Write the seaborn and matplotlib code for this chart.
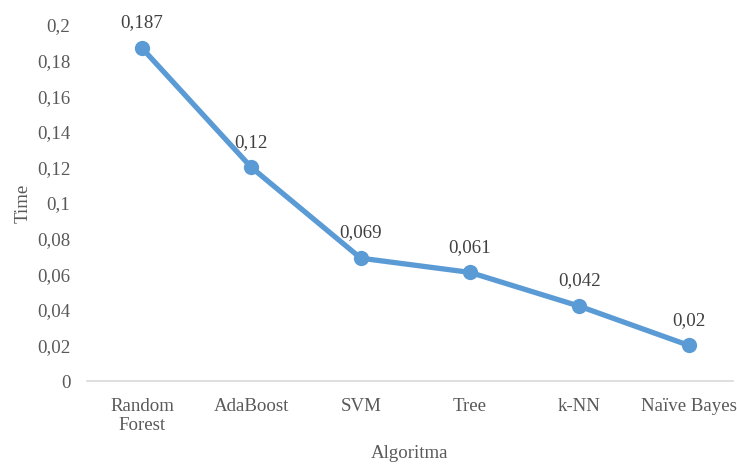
import matplotlib
matplotlib.use("Agg")
import matplotlib.pyplot as plt
import seaborn as sns
import pandas as pd

algorithms = ["Random\nForest", "AdaBoost", "SVM", "Tree", "k-NN", "Naïve Bayes"]
times = [0.187, 0.12, 0.069, 0.061, 0.042, 0.02]
y_ticks = [0, 0.02, 0.04, 0.06, 0.08, 0.1, 0.12, 0.14, 0.16, 0.18, 0.2]

sns.set_style("white")
plt.rcParams["font.family"] = ["Liberation Serif", "DejaVu Serif"]

text_color = "#595959"
line_color = "#5B9BD5"
fs = 13.6

df = pd.DataFrame({"Algoritma": range(len(algorithms)), "Time": times})

fig = plt.figure(figsize=(7.37, 4.66), dpi=100)
ax = fig.add_axes([0.118, 0.1824, 0.876, 0.764])

sns.lineplot(data=df, x="Algoritma", y="Time", ax=ax, color=line_color,
             linewidth=3.8, marker="o", markersize=11, markeredgewidth=0,
             clip_on=False)

def fmt(v):
    return f"{v:g}".replace(".", ",")

for i, v in enumerate(times):
    ax.annotate(fmt(v), (i, v), xytext=(0, 12), textcoords="offset points",
                ha="center", va="bottom", fontsize=fs, color="#404040")

ax.set_xlim(-0.503, 5.40)
ax.set_ylim(0, 0.2)
ax.set_xticks(range(len(algorithms)))
ax.set_xticklabels(algorithms, fontsize=fs, color=text_color, linespacing=1.2)
ax.set_yticks(y_ticks)
ax.set_yticklabels([fmt(v) for v in y_ticks], fontsize=fs, color=text_color)
ax.tick_params(axis="x", length=0, pad=12)
ax.tick_params(axis="y", length=0, pad=12)

for side in ["top", "right", "left"]:
    ax.spines[side].set_visible(False)
ax.spines["bottom"].set_color("#D9D9D9")
ax.spines["bottom"].set_linewidth(1.2)

ax.set_xlabel("Algoritma", fontsize=fs, color=text_color, va="center")
ax.xaxis.set_label_coords(0.5, -0.205)
ax.set_ylabel("Time", fontsize=fs, color=text_color)
ax.yaxis.set_label_coords(-0.085, 0.5)

fig.savefig("out.png", dpi=100)
